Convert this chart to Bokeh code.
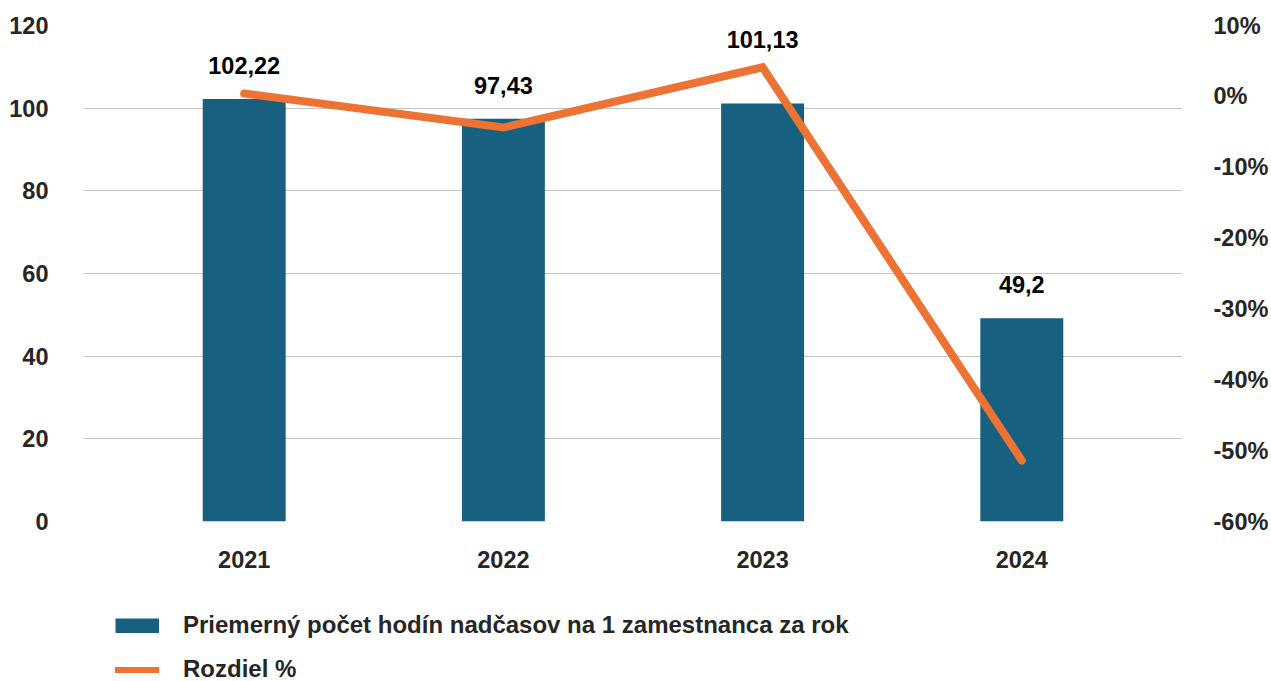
from bokeh.plotting import figure
from bokeh.layouts import column
from bokeh.models import (ColumnDataSource, FactorRange, Range1d, LinearAxis, FixedTicker,
                          PrintfTickFormatter, Legend, LegendItem, LabelSet)
from bokeh.core.properties import value
from bokeh.embed import file_html
from bokeh.resources import INLINE

# ---- data ----
years = ["2021", "2022", "2023", "2024"]
hours = [102.22, 97.43, 101.13, 49.2]
diff_pct = [0.4, -4.4, 4.1, -51.4]
left_ticks = [0, 20, 40, 60, 80, 100, 120]
right_ticks = [-60, -50, -40, -30, -20, -10, 0, 10]
bar_name = "Priemerný počet hodín nadčasov na 1 zamestnanca za rok"
line_name = "Rozdiel %"

# ---- styles ----
label_dy = [25, 25, 55, 25]
FONT = "Liberation Sans"
FS = "23.5px"
LEGEND_FS = "24px"
BAR_COLOR = "#176080"
LINE_COLOR = "#ED7334"
TEXT_COLOR = "#262626"

src = ColumnDataSource(dict(
    year=years, hours=hours, pct=diff_pct,
    label=[f"{v:g}".replace(".", ",") for v in hours],
    dy=label_dy,
))

p = figure(width=1271, height=590,
           x_range=FactorRange(*years, range_padding=0.12, range_padding_units="absolute"),
           y_range=Range1d(0, 120),
           output_backend="svg", toolbar_location=None,
           min_border_left=83, min_border_right=88, min_border_top=25, min_border_bottom=69)
p.extra_y_ranges = {"pct": Range1d(-60, 10)}
p.outline_line_color = None
p.background_fill_color = "white"
p.border_fill_color = "white"

bars = p.vbar(x="year", top="hours", width=0.32, source=src,
              fill_color=BAR_COLOR, line_color=None)
line = p.line(x="year", y="pct", source=src, y_range_name="pct",
              line_color=LINE_COLOR, line_width=8, line_cap="round", line_join="miter")

labels = LabelSet(x="year", y="hours", text="label", source=src, y_offset="dy",
                  text_align="center", text_baseline="alphabetic",
                  text_font=value(FONT), text_font_style="bold", text_font_size=value(FS),
                  text_color="black")
p.add_layout(labels)

# axes
def style_axis(ax):
    ax.axis_line_color = None
    ax.major_tick_line_color = None
    ax.minor_tick_line_color = None
    ax.major_tick_out = 0
    ax.major_tick_in = 0
    ax.major_label_text_font = FONT
    ax.major_label_text_font_style = "bold"
    ax.major_label_text_font_size = FS
    ax.major_label_text_color = TEXT_COLOR

p.yaxis.ticker = FixedTicker(ticks=left_ticks)
style_axis(p.yaxis[0])
p.yaxis.major_label_standoff = 35
style_axis(p.xaxis[0])
p.xaxis.major_label_standoff = 29

raxis = LinearAxis(y_range_name="pct", ticker=FixedTicker(ticks=right_ticks),
                   formatter=PrintfTickFormatter(format="%d%%"))
style_axis(raxis)
raxis.major_label_standoff = 31
p.add_layout(raxis, "right")

p.xgrid.grid_line_color = None
p.ygrid.ticker = FixedTicker(ticks=left_ticks)
p.ygrid.grid_line_color = "#C4C4C4"
p.ygrid.grid_line_width = 1

# ---- legend strip below the chart ----
lg = figure(width=1271, height=91, x_range=Range1d(0, 1), y_range=Range1d(0, 1),
            output_backend="svg", toolbar_location=None,
            x_axis_location=None, y_axis_location=None, min_border=0)
lg.outline_line_color = None
lg.xgrid.visible = False
lg.ygrid.visible = False
nan = float("nan")
sw_bar = lg.line(x=[nan], y=[nan], line_color=BAR_COLOR, line_width=15, line_cap="butt")
sw_line = lg.line(x=[nan], y=[nan], line_color=LINE_COLOR, line_width=6, line_cap="round")
legend = Legend(items=[LegendItem(label=bar_name, renderers=[sw_bar]),
                       LegendItem(label=line_name, renderers=[sw_line])],
                location=(32, -2), orientation="vertical",
                glyph_width=44, glyph_height=15, label_standoff=24,
                label_text_font=FONT, label_text_font_style="bold",
                label_text_font_size=LEGEND_FS, label_text_color=TEXT_COLOR,
                spacing=16, padding=0, margin=0,
                border_line_color=None, background_fill_alpha=0)
lg.add_layout(legend, "center")

open("out.html", "w").write(file_html(column(p, lg, spacing=0), INLINE))
